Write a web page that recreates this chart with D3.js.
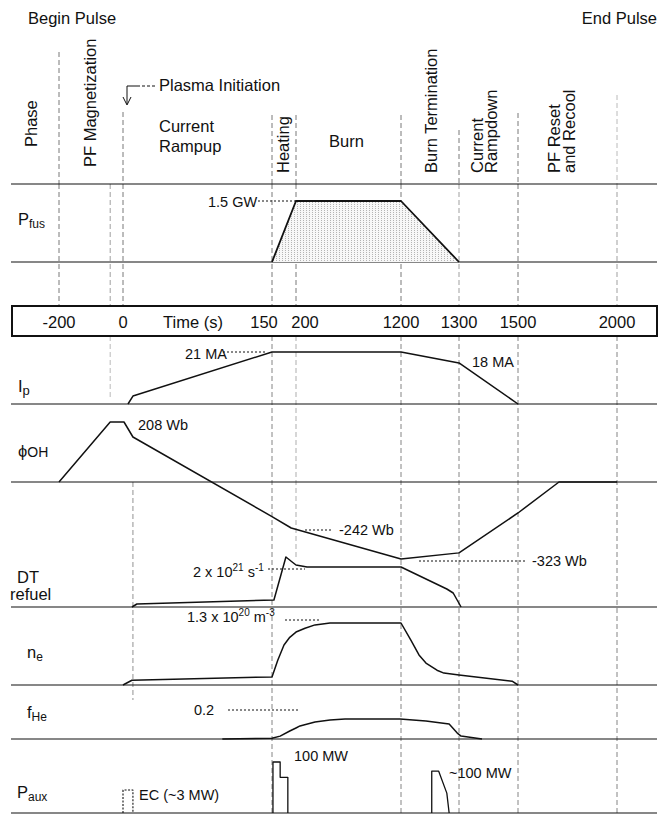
<!DOCTYPE html>
<html>
<head>
<meta charset="utf-8">
<script src="https://cdn.jsdelivr.net/npm/d3@7"></script>
<style>
  html, body { margin: 0; padding: 0; background: #fff; }
  text { font-family: "Liberation Sans", Arial, Helvetica, sans-serif; fill: #111; }
</style>
</head>
<body>
<script>
// ---------------- DATA ----------------
// time axis (s) – non-uniform axis
const timeTicks = [-200, 0, 150, 200, 1200, 1300, 1500, 2000];

// Fusion power (GW)
const pfusT = [150, 200, 1200, 1300];
const pfusV = [0, 1.5, 1.5, 0];

// Plasma current (MA)
const ipT = [5, 10, 150, 1200, 1300, 1500];
const ipV = [0, 3.2, 21, 21, 16.6, 0];

// OH flux (Wb)
const phiT = [-200, -40, 1, 10, 150, 190, 1200, 1300, 1500, 1707, 2000];
const phiV = [0, 208, 208, 156, -182, -242, -323, -307, -163, 0, 0];

// DT refuelling (1e21 /s)
const dtT = [9, 14, 154, 179, 192, 200, 305, 1200, 1279, 1290, 1307];
const dtV = [0, 0.15, 0.35, 2.5, 2.25, 2.1, 2.0, 2.0, 0.9, 0.7, 0];

// electron density (1e20 m^-3)
const neT = [0, 9, 150, 162, 175, 187, 200, 286, 381, 524, 1200, 1217, 1231, 1243, 1262, 1274, 1300, 1480, 1500];
const neV = [0, 0.1, 0.17, 0.52, 0.84, 1.0, 1.11, 1.19, 1.26, 1.3, 1.3, 0.94, 0.63, 0.46, 0.31, 0.25, 0.21, 0.08, 0];

// helium fraction
const fheT = [100, 150, 167, 187, 200, 238, 381, 524, 667, 1190, 1243, 1283, 1297, 1307, 1378];
const fheV = [0, 0.005, 0.02, 0.055, 0.076, 0.09, 0.117, 0.131, 0.138, 0.138, 0.124, 0.103, 0.041, 0.02, 0];

// auxiliary power (MW)
const ecT = [0, 0, 10, 10];
const ecV = [0, 45, 45, 0];
const heatT = [152, 152, 167, 167, 183, 183];
const heatV = [0, 100, 100, 70, 70, 0];
const rampT = [1253, 1253, 1265, 1279, 1283];
const rampV = [0, 82, 82, 39, 0];

// phase labels
const phaseLabels = ["Phase", "PF Magnetization", "Current Rampup", "Heating", "Burn",
                     "Burn Termination", "Current Rampdown", "PF Reset and Recool"];

// ---------------- LAYOUT ----------------
const W = 659, H = 817;
const svg = d3.select("body").append("svg").attr("width", W).attr("height", H);

const x = d3.scaleLinear().domain(timeTicks).range([59, 123, 272, 296, 401, 459, 518, 617]);

const yP   = d3.scaleLinear().domain([0, 1.5]).range([262, 201]);
const yIp  = d3.scaleLinear().domain([0, 21]).range([404, 352]);
const yPhi = d3.scaleLinear().domain([-323, -242, 0, 208]).range([559, 528, 482, 422]);
const yDT  = d3.scaleLinear().domain([0, 2]).range([607, 567]);
const yNe  = d3.scaleLinear().domain([0, 1.3]).range([685, 623]);
const yHe  = d3.scaleLinear().domain([0, 0.2]).range([739, 710]);
const yPa  = d3.scaleLinear().domain([0, 100]).range([813, 762]);

const X0 = 11, X1 = 657;
const ink = "#111", grid = "#555";

// pattern for fusion-power fill
const defs = svg.append("defs");
const pat = defs.append("pattern").attr("id", "stip").attr("width", 3).attr("height", 2)
  .attr("patternUnits", "userSpaceOnUse");
pat.append("rect").attr("width", 3).attr("height", 2).attr("fill", "#f7f7f7");
pat.append("rect").attr("x", 0).attr("y", 0).attr("width", 1).attr("height", 1).attr("fill", "#b4b4b4");

// ---------------- GRID (vertical dashed lines) ----------------
function vline(t, y0, y1, op) {
  svg.append("line").attr("x1", x(t)).attr("x2", x(t)).attr("y1", y0).attr("y2", y1)
    .attr("stroke", grid).attr("stroke-width", 0.8).attr("stroke-dasharray", "5,3")
    .attr("opacity", op || 1);
}
// header region
[[-200, 52], [0, 112], [150, 115], [200, 115], [1200, 115], [1300, 130], [1500, 113], [2000, 95]]
  .forEach(([t, top]) => vline(t, top, 184, t === 2000 ? 0.5 : 1));
// upper panel
[-200, -40, 0, 150, 200, 1200, 1300, 1500, 2000].forEach(t => vline(t, 184, 306, t === -40 || t === 1300 || t === 2000 ? 0.7 : 1));
// lower panels
vline(-40, 336, 400, 0.5);
vline(10, 482, 700, 0.8);
vline(200, 336, 560, 0.6);
[150, 1200, 1300, 1500, 2000].forEach(t => vline(t, 336, 813, 0.9));

// ---------------- BASELINES ----------------
[184, 262, 404, 482, 607, 685, 739, 813].forEach(y => {
  svg.append("line").attr("x1", X0).attr("x2", X1).attr("y1", y).attr("y2", y)
    .attr("stroke", ink).attr("stroke-width", 1.1);
});

// time box
svg.append("rect").attr("x", 12).attr("y", 306).attr("width", X1 - 12).attr("height", 30)
  .attr("fill", "#fff").attr("stroke", ink).attr("stroke-width", 2);
const tickShift = {150: -8, 200: 9};
timeTicks.forEach(t => {
  svg.append("text").attr("x", x(t) + (tickShift[t] || 0)).attr("y", 328)
    .attr("text-anchor", "middle").attr("font-size", 16.5).text(t);
});
svg.append("text").attr("x", 163).attr("y", 328).attr("font-size", 16.5).text("Time (s)");

// ---------------- CURVES ----------------
function series(T, V, ys, opts) {
  const line = d3.line().x(d => x(d[0])).y(d => ys(d[1]));
  svg.append("path").attr("d", line(d3.zip(T, V))).attr("fill", "none")
    .attr("stroke", ink).attr("stroke-width", (opts && opts.w) || 1.5)
    .attr("stroke-linejoin", "round")
    .attr("stroke-dasharray", (opts && opts.dash) || null);
}

// Pfus area
const area = d3.area().x(d => x(d[0])).y0(yP(0)).y1(d => yP(d[1]));
svg.append("path").attr("d", area(d3.zip(pfusT, pfusV))).attr("fill", "url(#stip)");
series(pfusT, pfusV, yP, {w: 1.8});

series(ipT, ipV, yIp);
series(phiT, phiV, yPhi);
series(dtT, dtV, yDT);
series(neT, neV, yNe);
series(fheT, fheV, yHe);
series(ecT, ecV, yPa, {w: 1.1, dash: "2,1.5"});
series(heatT, heatV, yPa, {w: 1.3});
series(rampT, rampV, yPa, {w: 1.3});

// ---------------- ANNOTATIONS ----------------
function dotted(x1, x2, y) {
  svg.append("line").attr("x1", x1).attr("x2", x2).attr("y1", y).attr("y2", y)
    .attr("stroke", ink).attr("stroke-width", 1).attr("stroke-dasharray", "2,2");
}
// parts: plain strings, {sup: ".."} or {sub: "..", size}
function label(xp, yp, parts, size) {
  const t = svg.append("text").attr("x", xp).attr("y", yp).attr("font-size", size || 14.5);
  let back = 0;
  parts.forEach(p => {
    if (typeof p === "string") {
      const s = t.append("tspan").text(p);
      if (back) { s.attr("dy", back); back = 0; }
    } else if (p.sup) {
      t.append("tspan").attr("dy", -6 - back).attr("font-size", 10).text(p.sup);
      back = 6;
    } else if (p.sub) {
      t.append("tspan").attr("dy", 3 - back).attr("font-size", p.size || 11.5).text(p.sub);
      back = -3;
    }
  });
  return t;
}

label(208, 207, ["1.5 GW"]);               dotted(258, x(200), yP(1.5));
label(185, 359, ["21 MA"]);                dotted(223, 267, yIp(21));
label(472, 367, ["18 MA"]);
label(138, 430, ["208 Wb"]);
label(339, 535, ["-242 Wb"]);              dotted(305, 332, 530);
label(532, 566, ["-323 Wb"]);              dotted(419, 526, 561);
label(193, 577, ["2 x 10", {sup: "21"}, " s", {sup: "-1"}]);  dotted(268, 305, 569);
label(187, 622, ["1.3 x 10", {sup: "20"}, " m", {sup: "-3"}]); dotted(285, 320, 620);
label(194, 715, ["0.2"]);                  dotted(228, 300, 710);
label(294, 761, ["100 MW"]);
label(449, 778, ["~100 MW"]);
label(139, 800, ["EC (~3 MW)"]);

// row labels
label(18, 225, ["P", {sub: "fus", size: 12}], 16.5);
label(18, 392, ["I", {sub: "p", size: 13}], 16.5);
svg.append("text").attr("x", 18).attr("y", 457).attr("font-size", 16.5)
  .call(t => { t.append("tspan").text("\u03D5"); t.append("tspan").attr("font-size", 14).text("OH"); });
label(17, 583, ["DT"], 16.5);
label(10, 600, ["refuel"], 16.5);
label(27, 658, ["n", {sub: "e", size: 12}], 16.5);
label(27, 718, ["f", {sub: "He", size: 12}], 16.5);
label(17, 798, ["P", {sub: "aux", size: 12}], 16.5);

// ---------------- HEADER ----------------
const HF = 16.5;
svg.append("text").attr("x", 28).attr("y", 24).attr("font-size", HF).text("Begin Pulse");
svg.append("text").attr("x", 657).attr("y", 24).attr("font-size", HF).attr("text-anchor", "end").text("End Pulse");

function vtext(xp, yp, s) {
  svg.append("text").attr("transform", `translate(${xp},${yp}) rotate(-90)`)
    .attr("font-size", HF).text(s);
}
vtext(37, 147, phaseLabels[0]);
vtext(96, 167, phaseLabels[1]);
svg.append("text").attr("x", 159).attr("y", 132).attr("font-size", HF).text("Current");
svg.append("text").attr("x", 159).attr("y", 152).attr("font-size", HF).text("Rampup");
vtext(289, 173, phaseLabels[3]);
svg.append("text").attr("x", 329).attr("y", 147).attr("font-size", HF).text(phaseLabels[4]);
vtext(437, 173, phaseLabels[5]);
vtext(483, 173, "Current");
vtext(497, 173, "Rampdown");
vtext(560, 173, "PF Reset");
vtext(575, 173, "and Recool");

// plasma initiation pointer
svg.append("text").attr("x", 159).attr("y", 91).attr("font-size", HF).text("Plasma Initiation");
svg.append("path").attr("d", `M137,86 H${x(0) + 4} V104`).attr("fill", "none")
  .attr("stroke", ink).attr("stroke-width", 1);
svg.append("line").attr("x1", 137).attr("x2", 155).attr("y1", 86).attr("y2", 86)
  .attr("stroke", ink).attr("stroke-width", 1).attr("stroke-dasharray", "3,2");
svg.append("path").attr("d", `M${x(0)},97 L${x(0) + 4},105 L${x(0) + 8},97`).attr("fill", "none")
  .attr("stroke", ink).attr("stroke-width", 1);
</script>
</body>
</html>
